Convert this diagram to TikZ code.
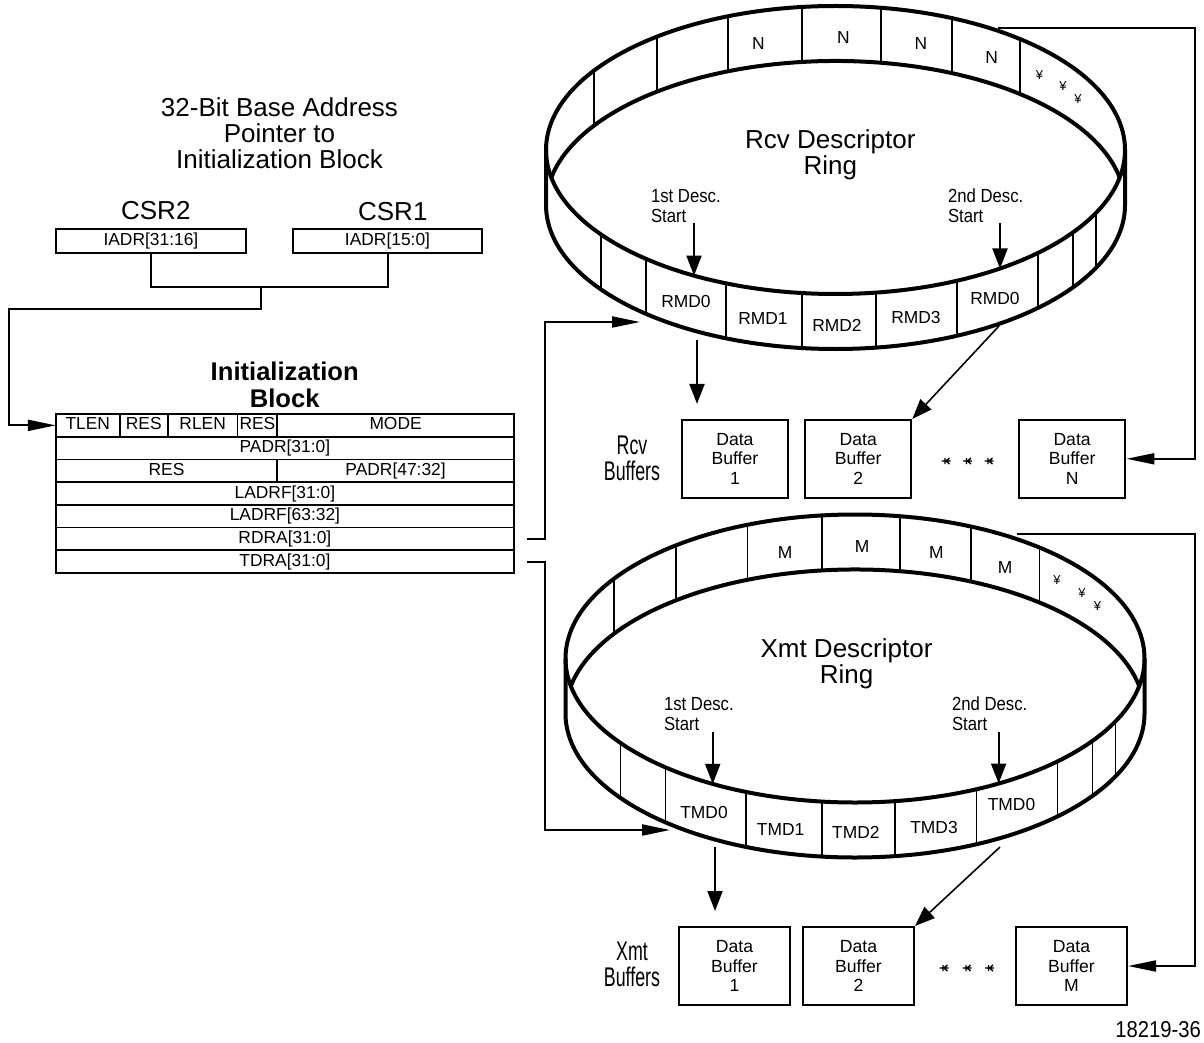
\documentclass[tikz,border=0pt]{standalone}
\usepackage{fontspec}
\setmainfont{Liberation Sans}
\newfontfamily\narrowfont[FakeStretch=0.88]{Liberation Sans}
\newfontfamily\condfont[FakeStretch=0.66]{Liberation Sans}
\usepackage{tikz}
\usetikzlibrary{arrows.meta,calc}

\begin{document}
\begin{tikzpicture}[
    x=0.5pt, y=0.5pt,
    line width=1pt,
    harr/.style={-{Triangle[length=14pt,width=5.5pt]}},
    varr/.style={-{Triangle[length=10pt,width=7.5pt]}},
    ring/.style={line width=2pt, line join=round},
    slot/.style={line width=0.9pt},
    cell/.style={draw, line width=0.8pt, anchor=north west, minimum height=11.35pt,
      inner sep=0pt, outer sep=0pt, text height=6.3pt, text depth=1.7pt},
    reg/.style={draw, minimum height=11.7pt, inner sep=0pt},
    buf/.style={draw, inner sep=0pt, align=center, font=\fontsize{8.8}{9.6}\selectfont},
    big/.style={font=\fontsize{13}{13.2}\selectfont, align=center},
    desc/.style={anchor=west, inner sep=0pt, font=\narrowfont\fontsize{9.5}{11}\selectfont},
    every node/.style={font=\fontsize{8.7}{9.6}\selectfont}
  ]
  \useasboundingbox (0,0) rectangle (1204,-1043);

  % pointer registers
  \node[big] (ptr) at (279.5,-133.3) {32-Bit Base Address\\Pointer to\\Initialization Block};
  \node[big] (csr2) at (155.8,-210.7) {CSR2};
  \node[big] (csr1) at (392.8,-211.7) {CSR1};
  \node[reg, minimum width=95.2pt] (iadrhi) at (150.9,-241) {IADR[31:16]};
  \node[reg, minimum width=94.8pt] (iadrlo) at (387.5,-241) {IADR[15:0]};

  % initialization block
  \node[font=\bfseries\fontsize{12.8}{13.5}\selectfont, align=center] (ibtitle) at (284.7,-384.7) {Initialization\\Block};
  \node[cell, minimum width=32pt] (tlen) at (55.8,-414) {TLEN};
  \node[cell, minimum width=23.95pt] (res1) at (tlen.north east) {RES};
  \node[cell, minimum width=34.95pt] (rlen) at (res1.north east) {RLEN};
  \node[cell, minimum width=19.8pt] (res2) at (rlen.north east) {RES};
  \node[cell, minimum width=118.4pt] (mode) at (res2.north east) {MODE};
  \node[cell, minimum width=229.1pt] (padrlo) at (tlen.south west) {PADR[31:0]};
  \node[cell, minimum width=110.7pt] (res3) at (padrlo.south west) {RES};
  \node[cell, minimum width=118.4pt] (padrhi) at (res3.north east) {PADR[47:32]};
  \node[cell, minimum width=229.1pt] (ladrlo) at (res3.south west) {LADRF[31:0]};
  \node[cell, minimum width=229.1pt] (ladrhi) at (ladrlo.south west) {LADRF[63:32]};
  \node[cell, minimum width=229.1pt] (rdra) at (ladrhi.south west) {RDRA[31:0]};
  \node[cell, minimum width=229.1pt] (tdra) at (rdra.south west) {TDRA[31:0]};

  \coordinate (join) at (261.3,-286.7);
  \draw (iadrhi.south) |- (join) -| (iadrlo.south);
  \draw[harr] (join) -- ++(0,-22.6) -| ($(tlen.west)+(-46.8,0)$) -- (tlen.west);

  % the two descriptor rings
  \foreach \cx/\cy in {835.5/150, 855/658.5} {
    \begin{scope}[shift={(\cx,-\cy)}]
      \draw[ring] (0,0) ellipse [x radius=289.5, y radius=144];
      \draw[ring] (-289.5,0) -- (-289.5,-55)
        arc[start angle=180, end angle=360, x radius=289.5, y radius=144] -- (289.5,0);
      \draw[ring] ($(0,-55)+(11:289.5 and 144)$)
        arc[start angle=11, end angle=169, x radius=289.5, y radius=144];
      \foreach \a in {146.5,128.1,111.8,96.6,81.0,66.3,50.4,
                      215.9,229.1,247.8,263.4,278.0,294.8,314.4,325.1,334.1}
        \draw[slot] (\a:289.5 and 144) -- ++(0,-55);
    \end{scope}
  }

  % receive side
  \node[big] (rcvring) at (830.3,-155) {Rcv Descriptor\\Ring};
  \node (rcvn1) at (758.3,-44) {N};
  \node (rcvn2) at (843.3,-37.3) {N};
  \node (rcvn3) at (921,-43.3) {N};
  \node (rcvn4) at (991.7,-57.3) {N};
  \node[font=\fontsize{6.5}{7}\selectfont] (rcvy1) at (1039.5,-75) {¥};
  \node[font=\fontsize{6.5}{7}\selectfont] (rcvy2) at (1063,-86) {¥};
  \node[font=\fontsize{6.5}{7}\selectfont] (rcvy3) at (1078,-99) {¥};
  \node (rmd0) at (686,-302) {RMD0};
  \node (rmd1) at (763,-319) {RMD1};
  \node (rmd2) at (837,-325) {RMD2};
  \node (rmd3) at (916,-318) {RMD3};
  \node (rmd0b) at (995,-299) {RMD0};
  \node[desc] (rcvd1) at (650,-196) {1st Desc.};
  \node[desc] (rcvs1) at (650,-216) {Start};
  \node[desc] (rcvd2) at (947,-196) {2nd Desc.};
  \node[desc] (rcvs2) at (947,-216) {Start};
  \coordinate (rcva1) at (694,-223);
  \coordinate (rcvt1) at (694,-275.6);
  \coordinate (rcva2) at (1000,-223);
  \coordinate (rcvt2) at (1000,-268.5);
  \draw[varr] (rcva1) -- (rcvt1);
  \draw[varr] (rcva2) -- (rcvt2);

  \node[font=\condfont\fontsize{13.5}{13}\selectfont, align=center] (rcvbufs) at (632,-458) {Rcv\\Buffers};
  \node[buf, minimum width=53.1pt, minimum height=38.9pt] (rcvb1) at (734.9,-458.8) {Data\\Buffer\\1};
  \node[buf, minimum width=53.1pt, minimum height=38.9pt] (rcvb2) at (858.2,-458.8) {Data\\Buffer\\2};
  \node[buf, minimum width=53.3pt, minimum height=38.9pt] (rcvbn) at (1072.1,-458.8) {Data\\Buffer\\N};
  \coordinate (rcvo1) at (697,-340);
  \coordinate (rcvo2) at (999,-326);
  \draw[varr] (rcvo1) -- ($(rcvo1 |- rcvb1.north)+(0,15)$);
  \draw[varr, line width=0.8pt] (rcvo2) -- (rcvb2.north east);
  \coordinate (rcvlast) at (998.3,-28.3);
  \draw[harr] (rcvlast) -| ($(rcvbn.east)+(68.6,0)$) -- (rcvbn.east);
  \coordinate (rcvin) at (640,-322);
  \draw[harr] ($(rdra.east)+(13,0)$) -- ++(18,0) |- (rcvin);

  % transmit side
  \node[big] (xmtring) at (846.5,-664) {Xmt Descriptor\\Ring};
  \node (xmtm1) at (785,-553) {M};
  \node (xmtm2) at (862,-546.7) {M};
  \node (xmtm3) at (936.3,-553) {M};
  \node (xmtm4) at (1005,-568) {M};
  \node[font=\fontsize{6.5}{7}\selectfont] (xmty1) at (1057,-580) {¥};
  \node[font=\fontsize{6.5}{7}\selectfont] (xmty2) at (1082,-593) {¥};
  \node[font=\fontsize{6.5}{7}\selectfont] (xmty3) at (1097.5,-606) {¥};
  \node (tmd0) at (704,-813) {TMD0};
  \node (tmd1) at (780.6,-830) {TMD1};
  \node (tmd2) at (855.9,-832.7) {TMD2};
  \node (tmd3) at (934,-828) {TMD3};
  \node (tmd0b) at (1011.5,-805) {TMD0};
  \node[desc] (xmtd1) at (663,-704) {1st Desc.};
  \node[desc] (xmts1) at (663,-724) {Start};
  \node[desc] (xmtd2) at (951,-704) {2nd Desc.};
  \node[desc] (xmts2) at (951,-724) {Start};
  \coordinate (xmta1) at (712.7,-731.7);
  \coordinate (xmtt1) at (712.7,-783.9);
  \coordinate (xmta2) at (998.6,-731.7);
  \coordinate (xmtt2) at (998.6,-783.5);
  \draw[varr] (xmta1) -- (xmtt1);
  \draw[varr] (xmta2) -- (xmtt2);

  \node[font=\condfont\fontsize{13.5}{13}\selectfont, align=center] (xmtbufs) at (632,-964.5) {Xmt\\Buffers};
  \node[buf, minimum width=55.5pt, minimum height=39pt] (xmtb1) at (734.5,-966) {Data\\Buffer\\1};
  \node[buf, minimum width=55.5pt, minimum height=39pt] (xmtb2) at (858.5,-966) {Data\\Buffer\\2};
  \node[buf, minimum width=55.5pt, minimum height=39pt] (xmtbm) at (1071.5,-966) {Data\\Buffer\\M};
  \coordinate (xmto1) at (715,-847);
  \coordinate (xmto2) at (1000,-847);
  \draw[varr] (xmto1) -- ($(xmto1 |- xmtb1.north)+(0,15)$);
  \draw[varr, line width=0.8pt] (xmto2) -- (xmtb2.north east);
  \coordinate (xmtlast) at (1017,-534);
  \draw[harr] (xmtlast) -| ($(xmtbm.east)+(66.5,0)$) -- (xmtbm.east);
  \coordinate (xmtin) at (670,-830);
  \draw[harr] ($(tdra.east)+(13,0)$) -- ++(18,0) |- (xmtin);

  % ellipsis marks between the buffers
  \foreach \x/\y in {946/461, 967.5/461, 989/461, 944/968, 967/968, 989.5/968}
    \draw[line width=0.7pt] (\x-4.5,-\y) -- (\x+4.5,-\y) (\x-1,-\y+3) -- (\x-1,-\y-3)
      (\x+3.5,-\y+3) -- (\x,-\y) -- (\x+3.5,-\y-3);

  \node[anchor=east, inner sep=0pt, font=\narrowfont\fontsize{11.5}{12}\selectfont] (fignum) at (1202,-1030) {18219-36};
\end{tikzpicture}
\end{document}
